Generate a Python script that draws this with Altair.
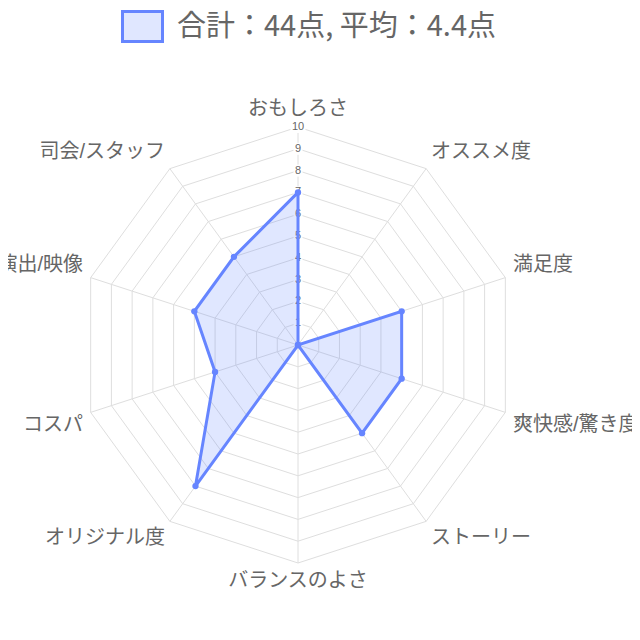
import altair as alt
import pandas as pd

# ---- data ----
categories = ["おもしろさ", "オススメ度", "満足度", "爽快感/驚き度", "ストーリー",
              "バランスのよさ", "オリジナル度", "コスパ", "演出/映像", "司会/スタッフ"]
scores = [7, 0, 5, 5, 5, 0, 8, 4, 5, 5]
tick_levels = [1, 2, 3, 4, 5, 6, 7, 8, 9, 10]
max_score = 10

n = len(categories)
total = sum(scores)
avg = total / n
series_name = f"合計：{total}点, 平均：{avg:.1f}点"

FONT = "Helvetica Neue, Helvetica, Arial, Noto Sans CJK JP"
LEG_FONT = "Noto Sans CJK JP"
STROKE = "#6685ff"
FILL = "rgba(102,133,255,0.2)"
GRID = "#dedede"
TXT = "#666666"

# polygon rows (closed)
poly = pd.DataFrame({
    "order": list(range(n + 1)),
    "idx": [i % n for i in range(n + 1)],
    "v": [scores[i % n] for i in range(n + 1)],
    "series": [series_name] * (n + 1),
})
pts = pd.DataFrame({"idx": list(range(n)), "v": scores, "series": [series_name] * n})

grid = pd.DataFrame([
    {"level": lv, "order": k, "idx": k % n, "v": lv}
    for lv in tick_levels for k in range(n + 1)
])
spokes = pd.DataFrame({"idx": list(range(n)), "v": [max_score] * n})
ticks = pd.DataFrame({"idx": [0] * len(tick_levels), "v": tick_levels,
                      "t": [str(t) for t in tick_levels]})

label_r = max_score * 1.037


def group_of(i):
    deg = i * 360 / n
    h = "center" if deg in (0, 180) else ("left" if deg < 180 else "right")
    vb = "bottom" if (deg < 90 or deg > 270) else ("top" if (90 < deg < 270) else "middle")
    return f"{h}|{vb}"


labels = pd.DataFrame({
    "idx": list(range(n)),
    "v": [label_r] * n,
    "name": categories,
    "g": [group_of(i) for i in range(n)],
})

# ---- scales (plot area 624x624, centre at (290,337) px) ----
ppu = 21.8
W, H = 624, 624
cx, cy = 290, 337
xs = alt.Scale(domain=[-cx / ppu, (W - cx) / ppu], nice=False, zero=False)
ys = alt.Scale(domain=[-(H - cy) / ppu, cy / ppu], nice=False, zero=False)

calc = dict(
    x=f"datum.v * sin(datum.idx * 2 * PI / {n})",
    y=f"datum.v * cos(datum.idx * 2 * PI / {n})",
)


def X():
    return alt.X("x:Q", scale=xs, axis=None)


def Y():
    return alt.Y("y:Q", scale=ys, axis=None)


grid_layer = alt.Chart(grid).transform_calculate(**calc).mark_line(
    stroke=GRID, strokeWidth=1
).encode(x=X(), y=Y(), detail="level:N", order="order:Q")

spoke_layer = alt.Chart(spokes).transform_calculate(x0="0", y0="0", **calc).mark_rule(
    stroke=GRID, strokeWidth=1
).encode(x=alt.X("x0:Q", scale=xs, axis=None), y=alt.Y("y0:Q", scale=ys, axis=None),
         x2="x:Q", y2="y:Q")

tick_bg_small = alt.Chart(ticks).transform_filter("datum.v < 10").transform_calculate(**calc).mark_rect(
    fill="white", width=9, height=12
).encode(x=X(), y=Y())
tick_bg_big = alt.Chart(ticks).transform_filter("datum.v >= 10").transform_calculate(**calc).mark_rect(
    fill="white", width=15, height=12
).encode(x=X(), y=Y())
tick_txt = alt.Chart(ticks).transform_calculate(**calc).mark_text(
    font=FONT, fontSize=11, color=TXT, align="center", baseline="middle"
).encode(x=X(), y=Y(), text="t:N")

legend = alt.Legend(
    orient="none", legendX=113, legendY=-3, title=None,
    labelFontSize=29, labelColor=TXT, labelFont=LEG_FONT, labelOffset=13, labelLimit=0,
    symbolType="M-1,-0.75H1V0.75H-1Z", symbolSize=1600, symbolStrokeWidth=3,
    padding=0,
)

area_layer = alt.Chart(poly).transform_calculate(**calc).mark_line(strokeWidth=3).encode(
    x=X(), y=Y(), order="order:Q",
    fill=alt.Fill("series:N", scale=alt.Scale(range=[FILL]), legend=legend),
    stroke=alt.Stroke("series:N", scale=alt.Scale(range=[STROKE]), legend=legend),
)

point_layer = alt.Chart(pts).transform_calculate(**calc).mark_circle(
    size=40, color=STROKE, opacity=1
).encode(x=X(), y=Y())

label_layers = []
for g in sorted(set(labels["g"])):
    h, vb = g.split("|")
    label_layers.append(
        alt.Chart(labels).transform_filter(f"datum.g == '{g}'").transform_calculate(**calc).mark_text(
            font=FONT, fontSize=20, color=TXT, align=h, baseline=vb
        ).encode(x=X(), y=Y(), text="name:N")
    )

chart = alt.layer(
    grid_layer, spoke_layer, tick_bg_small, tick_bg_big, tick_txt,
    area_layer, point_layer, *label_layers
).properties(
    width=W, height=H,
    autosize=alt.AutoSizeParams(type="none"),
    padding=0,
).configure_view(stroke=None)

chart.save("out.html", embed_options={"renderer": "svg", "actions": False})
